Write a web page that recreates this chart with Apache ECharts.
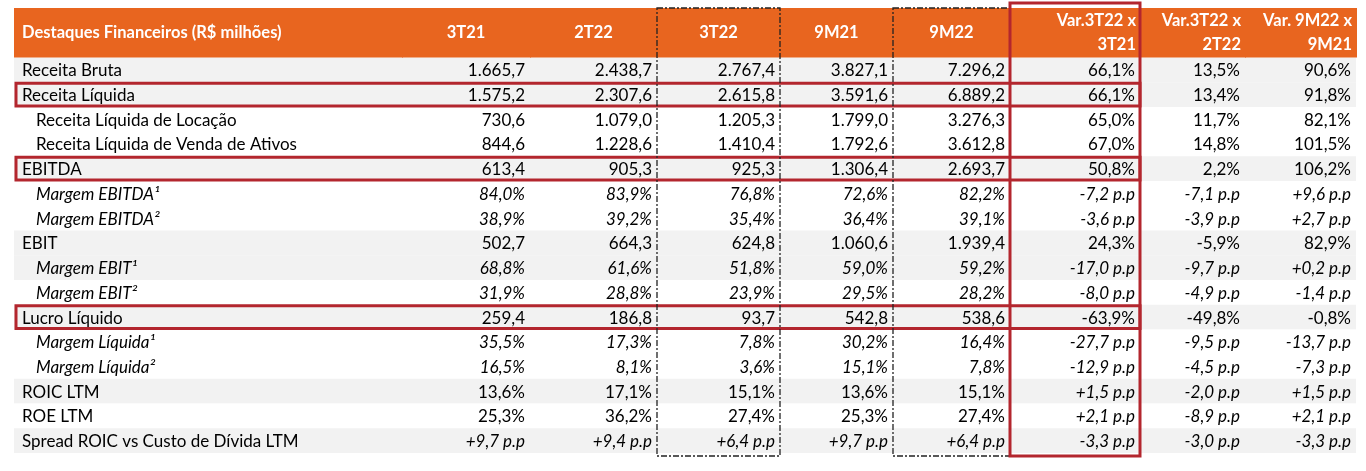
<!DOCTYPE html><html><head><meta charset="utf-8">
<script src="https://cdn.jsdelivr.net/npm/echarts@6/dist/echarts.min.js"></script>
<style>html,body{margin:0;padding:0;background:#fff}#c{width:1366px;height:471px}</style></head><body><div id="c"></div>
<script>
const headers=["Destaques Financeiros (R$ milhões)","3T21","2T22","3T22","9M21","9M22","Var.3T22 x\n3T21","Var.3T22 x\n2T22","Var. 9M22 x\n9M21"];
const rowLabels=["Receita Bruta","Receita Líquida","Receita Líquida de Locação","Receita Líquida de Venda de Ativos","EBITDA","Margem EBITDA¹","Margem EBITDA²","EBIT","Margem EBIT¹","Margem EBIT²","Lucro Líquido","Margem Líquida¹","Margem Líquida²","ROIC LTM","ROE LTM","Spread ROIC vs Custo de Dívida LTM"];
const c3T21=["1.665,7","1.575,2","730,6","844,6","613,4","84,0%","38,9%","502,7","68,8%","31,9%","259,4","35,5%","16,5%","13,6%","25,3%","+9,7 p.p"];
const c2T22=["2.438,7","2.307,6","1.079,0","1.228,6","905,3","83,9%","39,2%","664,3","61,6%","28,8%","186,8","17,3%","8,1%","17,1%","36,2%","+9,4 p.p"];
const c3T22=["2.767,4","2.615,8","1.205,3","1.410,4","925,3","76,8%","35,4%","624,8","51,8%","23,9%","93,7","7,8%","3,6%","15,1%","27,4%","+6,4 p.p"];
const c9M21=["3.827,1","3.591,6","1.799,0","1.792,6","1.306,4","72,6%","36,4%","1.060,6","59,0%","29,5%","542,8","30,2%","15,1%","13,6%","25,3%","+9,7 p.p"];
const c9M22=["7.296,2","6.889,2","3.276,3","3.612,8","2.693,7","82,2%","39,1%","1.939,4","59,2%","28,2%","538,6","16,4%","7,8%","15,1%","27,4%","+6,4 p.p"];
const cVar1=["66,1%","66,1%","65,0%","67,0%","50,8%","-7,2 p.p","-3,6 p.p","24,3%","-17,0 p.p","-8,0 p.p","-63,9%","-27,7 p.p","-12,9 p.p","+1,5 p.p","+2,1 p.p","-3,3 p.p"];
const cVar2=["13,5%","13,4%","11,7%","14,8%","2,2%","-7,1 p.p","-3,9 p.p","-5,9%","-9,7 p.p","-4,9 p.p","-49,8%","-9,5 p.p","-4,5 p.p","-2,0 p.p","-8,9 p.p","-3,0 p.p"];
const cVar3=["90,6%","91,8%","82,1%","101,5%","106,2%","+9,6 p.p","+2,7 p.p","82,9%","+0,2 p.p","-1,4 p.p","-0,8%","-13,7 p.p","-7,3 p.p","+1,5 p.p","+2,1 p.p","-3,3 p.p"];
const cols=[c3T21,c2T22,c3T22,c9M21,c9M22,cVar1,cVar2,cVar3];
const subRows=[2,3,5,6,8,9,11,12];
const italicRows=[5,6,8,9,11,12];
const greyRows=[0,1,4,7,8,10,13,15];
const boxedRows=[1,4,10];
const edges=[14,402,530,657,780,893,1010,1140,1245,1356];
const chart=echarts.init(document.getElementById('c'));
const cells=[];
rowLabels.forEach((l,r)=>{cells.push([0,r,l]);cols.forEach((c,i)=>cells.push([i+1,r,c[r]]));});
const font='Lato, "Noto Sans", sans-serif';
chart.setOption({animation:false,
grid:{left:0,right:0,top:8,bottom:18},
xAxis:{type:'value',min:0,max:1366,show:false},
yAxis:{type:'value',min:-2.5,max:15.5,inverse:true,show:false},
series:[
{type:'custom',data:rowLabels.map((l,r)=>[r]),z:1,renderItem:(p,api)=>{const r=api.value(0);const a=api.coord([edges[0],r-0.5]),b=api.coord([edges[9],r+0.5]);
 return {type:'rect',shape:{x:a[0],y:a[1],width:b[0]-a[0],height:b[1]-a[1]},style:{fill:greyRows.includes(r)?'#f2f2f2':'#fff'}};}},
{type:'custom',data:headers.map((h,i)=>[i]),z:2,renderItem:(p,api)=>{const i=api.value(0);const a=api.coord([edges[i],-2.5]),b=api.coord([edges[i+1],-0.5]);
 const two=headers[i].includes('\n');const simple=i>0&&!two;
 return {type:'group',children:[{type:'rect',shape:{x:a[0],y:a[1],width:b[0]-a[0]+1,height:b[1]-a[1]},style:{fill:'#E8651F'}},
 {type:'text',style:{text:headers[i],x:i==0?a[0]+8:(simple?(a[0]+b[0])/2:b[0]-4),y:(a[1]+b[1])/2,align:i==0?'left':(simple?'center':'right'),verticalAlign:'middle',fill:'#fff',font:'bold 16.5px '+font,lineHeight:24}}]};}},
{type:'custom',data:cells,z:3,renderItem:(p,api)=>{const c=api.value(0),r=api.value(1);const t=cells[p.dataIndex][2];
 const a=api.coord([edges[c],r]);const b=api.coord([edges[c+1],r]);
 const it=italicRows.includes(r)||(c>0&&/p\.p/.test(t));
 return {type:'text',style:{text:t,x:c==0?a[0]+(subRows.includes(r)?22:8):b[0]-5,y:a[1]+1,align:c==0?'left':'right',verticalAlign:'middle',fill:'#000',font:(it?'italic ':'')+'17px '+font}};}},
{type:'custom',data:boxedRows.map(r=>[r]),z:4,renderItem:(p,api)=>{const r=api.value(0);const a=api.coord([16,r-0.5]),b=api.coord([1140,r+0.5]);
 return {type:'rect',shape:{x:a[0],y:a[1]+1,width:b[0]-a[0],height:b[1]-a[1]-2},style:{fill:null,stroke:'#B3262E',lineWidth:3}};}},
{type:'custom',data:[[657,780],[893,1010]],z:4,renderItem:(p,api)=>{const a=api.coord([api.value(0),-2.5]),b=api.coord([api.value(1),15.5]);
 return {type:'rect',shape:{x:a[0],y:a[1],width:b[0]-a[0],height:b[1]-a[1]+3},style:{fill:null,stroke:'#222',lineWidth:1.3,lineDash:[6,2,2,2]}};}},
{type:'custom',data:[[1010,1140]],z:5,renderItem:(p,api)=>{const a=api.coord([api.value(0),-2.5]),b=api.coord([api.value(1),15.5]);
 return {type:'rect',shape:{x:a[0],y:a[1]-5,width:b[0]-a[0],height:b[1]-a[1]+8},style:{fill:null,stroke:'#B3262E',lineWidth:3}};}}
]});
</script></body></html>
